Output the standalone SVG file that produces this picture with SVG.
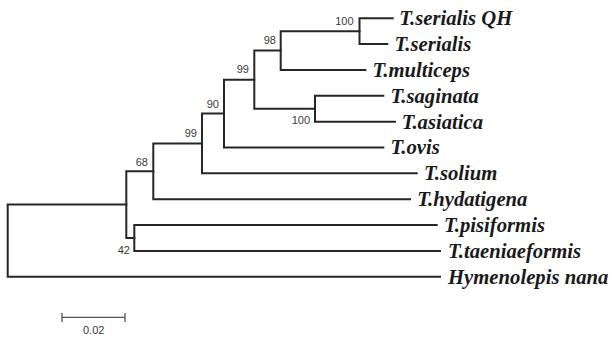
<svg xmlns="http://www.w3.org/2000/svg" width="614" height="338" viewBox="0 0 614 338">
<style>
.br{fill:none;stroke:#262626;stroke-width:2;stroke-linecap:square}
.tx{font-family:"Liberation Serif","Times New Roman",serif;font-weight:bold;font-style:italic;font-size:20.7px;fill:#1a1a1a}
.bs{font-family:"Liberation Sans",Arial,sans-serif;font-size:11px;fill:#3a3a3a;text-anchor:end}
.sc{fill:none;stroke:#555;stroke-width:1.3}
</style>
<rect width="614" height="338" fill="#fff"/>
<g id="connectors" class="br">
<path d="M7.7 204.6V276.7M7.7 204.6H126.3M7.7 276.7H440"/>
<path d="M126.3 171.3V237.9M126.3 171.3H153.3M126.3 237.9H134.3"/>
<path d="M134.3 225V250.9M134.3 225H436.7M134.3 250.9H440"/>
<path d="M153.3 143.5V199.2M153.3 143.5H202M153.3 199.2H410"/>
<path d="M202 113.6V173.3M202 113.6H224M202 173.3H416.7"/>
<path d="M224 79.7V147.5M224 79.7H254.3M224 147.5H383.3"/>
<path d="M254.3 50.6V108.75M254.3 50.6H280.7M254.3 108.75H315"/>
<path d="M280.7 31.2V70M280.7 31.2H359.5M280.7 70H365.3"/>
<path d="M359.5 18.3V44.1M359.5 18.3H392.7M359.5 44.1H387.3"/>
<path d="M315 95.8V121.7M315 95.8H383.3M315 121.7H395"/>
</g>
<g id="node-A"><text class="bs" x="353.5" y="24.8">100</text></g>
<g id="node-B"><text class="bs" x="276" y="44">98</text></g>
<g id="node-C"><text class="bs" x="310" y="124">100</text></g>
<g id="node-D"><text class="bs" x="249" y="73">99</text></g>
<g id="node-E"><text class="bs" x="219" y="108">90</text></g>
<g id="node-F"><text class="bs" x="197" y="137">99</text></g>
<g id="node-G"><text class="bs" x="148" y="165.7">68</text></g>
<g id="node-H"><text class="bs" x="130" y="254">42</text></g>
<g id="leaf-serialisQH"><text class="tx" x="399.3" y="25">T.serialis QH</text></g>
<g id="leaf-serialis"><text class="tx" x="394.5" y="50.9">T.serialis</text></g>
<g id="leaf-multiceps"><text class="tx" x="372.5" y="76.8">T.multiceps</text></g>
<g id="leaf-saginata"><text class="tx" x="390.5" y="102.6">T.saginata</text></g>
<g id="leaf-asiatica"><text class="tx" x="401.7" y="128.5">T.asiatica</text></g>
<g id="leaf-ovis"><text class="tx" x="390.5" y="154.3">T.ovis</text></g>
<g id="leaf-solium"><text class="tx" x="424" y="180.1">T.solium</text></g>
<g id="leaf-hydatigena"><text class="tx" x="417.3" y="206">T.hydatigena</text></g>
<g id="leaf-pisiformis"><text class="tx" x="444" y="231.8">T.pisiformis</text></g>
<g id="leaf-taeniaeformis"><text class="tx" x="448" y="257.7">T.taeniaeformis</text></g>
<g id="leaf-nana"><text class="tx" x="448" y="283.5">Hymenolepis nana</text></g>
<g id="scale-bar">
<path class="sc" d="M62 317.3H125M62 313V322M125 313V322"/>
<text class="bs" x="93.7" y="334" style="text-anchor:middle">0.02</text>
</g>
</svg>
